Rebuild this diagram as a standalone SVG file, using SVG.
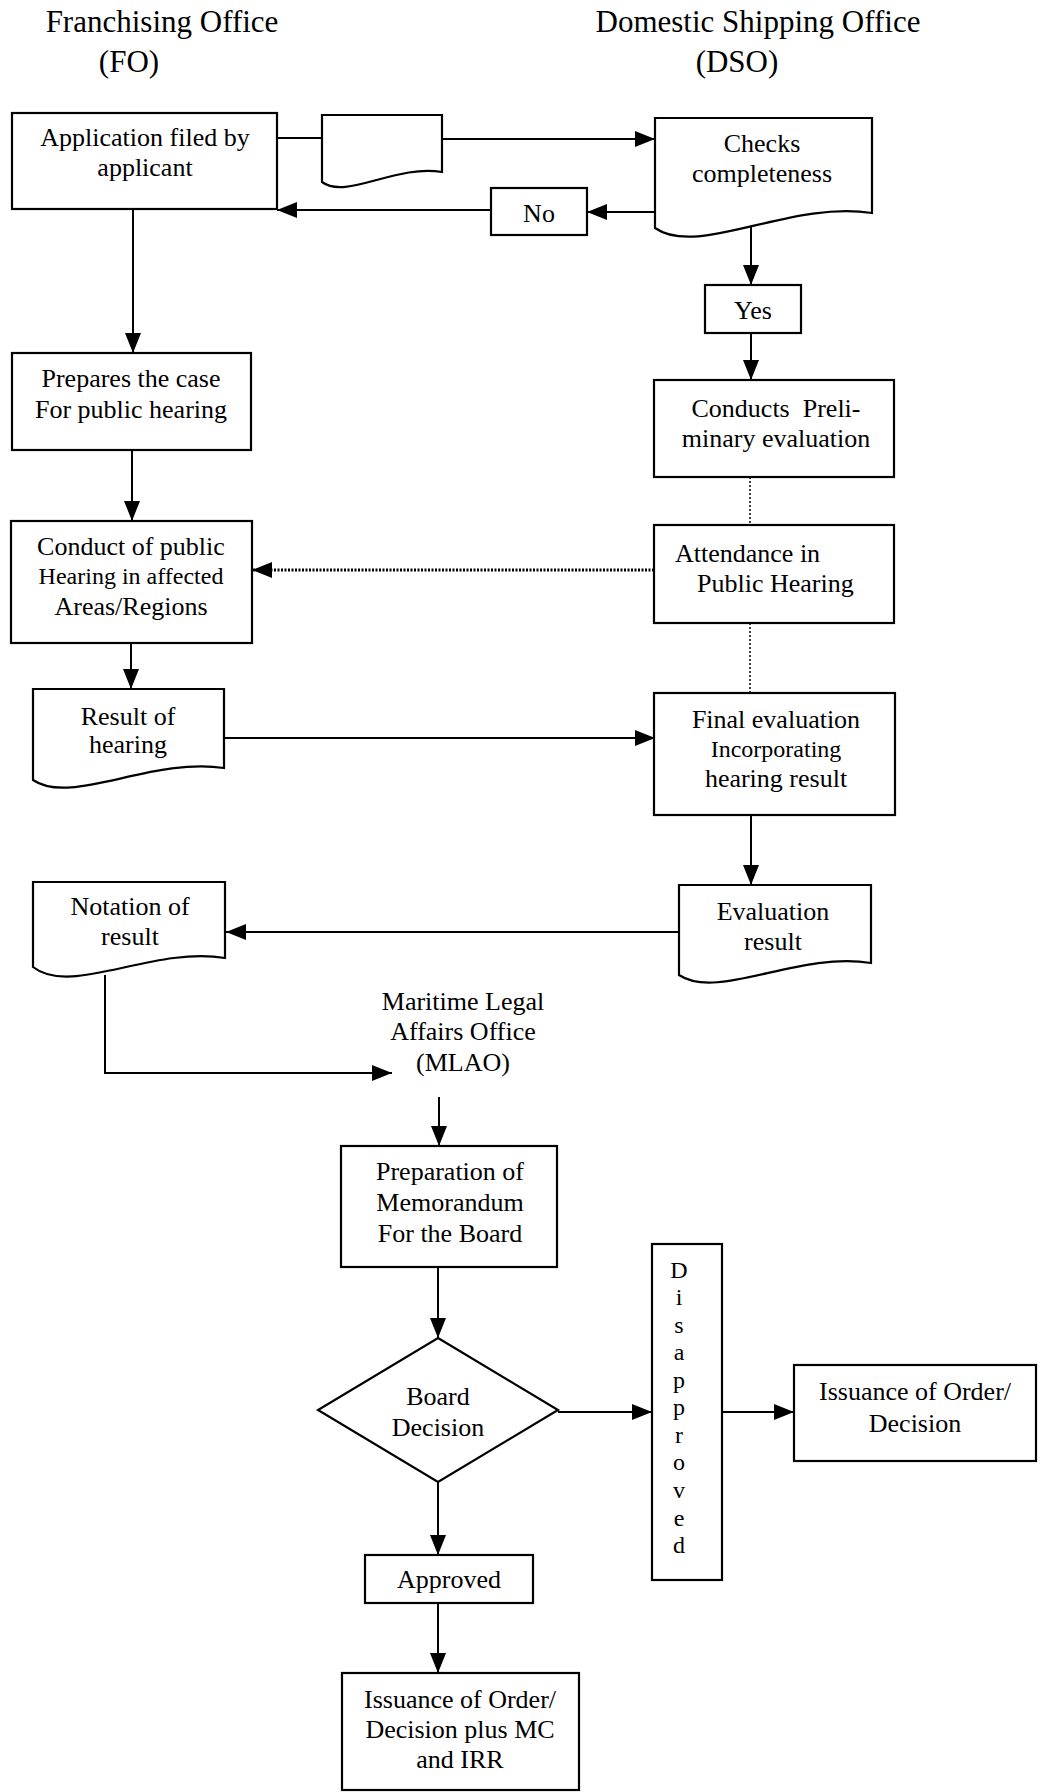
<svg xmlns="http://www.w3.org/2000/svg" width="1041" height="1792" viewBox="0 0 1041 1792">
<style>
  .bg { fill: #ffffff; }
  .shape { fill: #ffffff; stroke: #000000; stroke-width: 2.2; }
  .line { fill: none; stroke: #000000; stroke-width: 2; }
  .dot { fill: none; stroke: #000000; stroke-width: 1.5; stroke-dasharray: 2 2; }
  .dotthick { fill: none; stroke: #000000; stroke-width: 3; stroke-dasharray: 2 1.5; }
  text { font-family: "Liberation Serif", "Times New Roman", serif; fill: #000000; text-anchor: middle; font-size: 26px; }
  .title { font-size: 31px; }
  .sm { font-size: 24px; }
  .st { text-anchor: start; }
  .pre { white-space: pre; }
</style>
<defs>
  <marker id="ah" markerUnits="userSpaceOnUse" markerWidth="20" markerHeight="16" refX="20" refY="8" orient="auto">
    <path d="M0,0 L20,8 L0,16 Z" fill="#000000"/>
  </marker>
</defs>
<rect class="bg" x="0" y="0" width="1041" height="1792"/>

<g id="lane-titles">
  <text class="title" x="162" y="32">Franchising Office</text>
  <text class="title" x="129" y="72">(FO)</text>
  <text class="title" x="758" y="32">Domestic Shipping Office</text>
  <text class="title" x="737" y="72">(DSO)</text>
</g>

<g id="connectors">
  <line class="line" x1="277" y1="138" x2="322" y2="138"/>
  <line class="line" x1="442" y1="139" x2="655" y2="139" marker-end="url(#ah)"/>
  <line class="line" x1="655" y1="212" x2="587" y2="212" marker-end="url(#ah)"/>
  <line class="line" x1="491" y1="210" x2="277" y2="210" marker-end="url(#ah)"/>
  <line class="line" x1="133" y1="209" x2="133" y2="353" marker-end="url(#ah)"/>
  <line class="line" x1="751" y1="227" x2="751" y2="285" marker-end="url(#ah)"/>
  <line class="line" x1="751" y1="333" x2="751" y2="380" marker-end="url(#ah)"/>
  <line class="dot" x1="750" y1="477" x2="750" y2="525"/>
  <line class="dotthick" x1="654" y1="570" x2="252" y2="570" marker-end="url(#ah)"/>
  <line class="line" x1="132" y1="450" x2="132" y2="521" marker-end="url(#ah)"/>
  <line class="dot" x1="750" y1="623" x2="750" y2="693"/>
  <line class="line" x1="131" y1="643" x2="131" y2="689" marker-end="url(#ah)"/>
  <line class="line" x1="224" y1="738" x2="655" y2="738" marker-end="url(#ah)"/>
  <line class="line" x1="751" y1="815" x2="751" y2="885" marker-end="url(#ah)"/>
  <line class="line" x1="679" y1="932" x2="226" y2="932" marker-end="url(#ah)"/>
  <polyline class="line" points="105,975 105,1073 392,1073" marker-end="url(#ah)"/>
  <line class="line" x1="439" y1="1097" x2="439" y2="1146" marker-end="url(#ah)"/>
  <line class="line" x1="438" y1="1267" x2="438" y2="1338" marker-end="url(#ah)"/>
  <line class="line" x1="558" y1="1412" x2="652" y2="1412" marker-end="url(#ah)"/>
  <line class="line" x1="722" y1="1412" x2="794" y2="1412" marker-end="url(#ah)"/>
  <line class="line" x1="438" y1="1482" x2="438" y2="1555" marker-end="url(#ah)"/>
  <line class="line" x1="438" y1="1603" x2="438" y2="1673" marker-end="url(#ah)"/>
</g>

<g id="n-application">
  <rect class="shape" x="12" y="113" width="265" height="96"/>
  <text x="145" y="146">Application filed by</text>
  <text x="145" y="176">applicant</text>
</g>

<g id="n-document">
  <path class="shape" d="M322,115 H442 V172 C396,164 346,200 322,182 Z"/>
</g>

<g id="n-checks">
  <path class="shape" d="M655,118 H872 V213 C790,200 698,258 655,228 Z"/>
  <text x="762" y="152">Checks</text>
  <text x="762" y="182">completeness</text>
</g>

<g id="n-no">
  <rect class="shape" x="491" y="188" width="96" height="47"/>
  <text x="539" y="222">No</text>
</g>

<g id="n-yes">
  <rect class="shape" x="705" y="285" width="96" height="48"/>
  <text x="753" y="319">Yes</text>
</g>

<g id="n-prepares">
  <rect class="shape" x="12" y="353" width="239" height="97"/>
  <text x="131" y="387">Prepares the case</text>
  <text x="131" y="418">For public hearing</text>
</g>

<g id="n-preliminary">
  <rect class="shape" x="654" y="380" width="240" height="97"/>
  <text class="pre" x="776" y="417">Conducts  Preli-</text>
  <text x="776" y="447">minary evaluation</text>
</g>

<g id="n-conduct-hearing">
  <rect class="shape" x="11" y="521" width="241" height="122"/>
  <text x="131" y="555">Conduct of public</text>
  <text class="sm" x="131" y="584">Hearing in affected</text>
  <text x="131" y="615">Areas/Regions</text>
</g>

<g id="n-attendance">
  <rect class="shape" x="654" y="525" width="240" height="98"/>
  <text class="st" x="675" y="562">Attendance in</text>
  <text class="st" x="697" y="592">Public Hearing</text>
</g>

<g id="n-result-hearing">
  <path class="shape" d="M33,689 H224 V768 C151,757 71,806 33,780 Z"/>
  <text x="128" y="725">Result of</text>
  <text x="128" y="753">hearing</text>
</g>

<g id="n-final-evaluation">
  <rect class="shape" x="654" y="693" width="241" height="122"/>
  <text x="776" y="728">Final evaluation</text>
  <text class="sm" x="776" y="757">Incorporating</text>
  <text x="776" y="787">hearing result</text>
</g>

<g id="n-evaluation-result">
  <path class="shape" d="M679,885 H871 V963 C798,951 718,1001 679,975 Z"/>
  <text x="773" y="920">Evaluation</text>
  <text x="773" y="950">result</text>
</g>

<g id="n-notation">
  <path class="shape" d="M33,882 H225 V958 C152,946 71,997 33,967 Z"/>
  <text x="130" y="915">Notation of</text>
  <text x="130" y="945">result</text>
</g>

<g id="n-mlao">
  <text x="463" y="1010">Maritime Legal</text>
  <text x="463" y="1040">Affairs Office</text>
  <text x="463" y="1071">(MLAO)</text>
</g>

<g id="n-memorandum">
  <rect class="shape" x="341" y="1146" width="216" height="121"/>
  <text x="450" y="1180">Preparation of</text>
  <text x="450" y="1211">Memorandum</text>
  <text x="450" y="1242">For the Board</text>
</g>

<g id="n-board-decision">
  <polygon class="shape" points="438,1338 558,1410 438,1482 318,1410"/>
  <text x="438" y="1405">Board</text>
  <text x="438" y="1436">Decision</text>
</g>

<g id="n-disapproved">
  <rect class="shape" x="652" y="1244" width="70" height="336"/>
  <text class="sm" x="679" y="1278">D</text>
  <text class="sm" x="679" y="1305">i</text>
  <text class="sm" x="679" y="1333">s</text>
  <text class="sm" x="679" y="1360">a</text>
  <text class="sm" x="679" y="1388">p</text>
  <text class="sm" x="679" y="1415">p</text>
  <text class="sm" x="679" y="1443">r</text>
  <text class="sm" x="679" y="1470">o</text>
  <text class="sm" x="679" y="1498">v</text>
  <text class="sm" x="679" y="1526">e</text>
  <text class="sm" x="679" y="1553">d</text>
</g>

<g id="n-issuance-disapproved">
  <rect class="shape" x="794" y="1365" width="242" height="96"/>
  <text x="915" y="1400">Issuance of Order/</text>
  <text x="915" y="1432">Decision</text>
</g>

<g id="n-approved">
  <rect class="shape" x="365" y="1555" width="168" height="48"/>
  <text x="449" y="1588">Approved</text>
</g>

<g id="n-issuance-approved">
  <rect class="shape" x="342" y="1673" width="237" height="117"/>
  <text x="460" y="1708">Issuance of Order/</text>
  <text x="460" y="1738">Decision plus MC</text>
  <text x="460" y="1768">and IRR</text>
</g>
</svg>
